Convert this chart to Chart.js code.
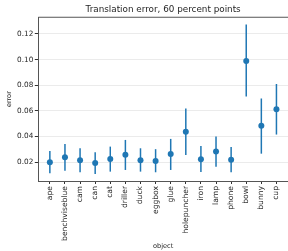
<!DOCTYPE html>
<html lang="en">
<head>
    <meta charset="UTF-8">
    <title>Translation error</title>
    <script src="https://cdn.jsdelivr.net/npm/chart.js"></script>
    <style>
        html, body { margin: 0; padding: 0; overflow: hidden; background: #fff; }
        canvas { display: block; }
    </style>
</head>
<body>
    <canvas id="grafico" width="292" height="251"></canvas>
<script>
    // valores
    const objetos = ['ape', 'benchviseblue', 'cam', 'can', 'cat', 'driller', 'duck', 'eggbox',
        'glue', 'holepuncher', 'iron', 'lamp', 'phone', 'bowl', 'bunny', 'cup'];
    const media = [0.0200, 0.0239, 0.0216, 0.0195, 0.0226, 0.0259, 0.0216, 0.0210,
        0.0265, 0.0437, 0.0223, 0.0283, 0.0220, 0.0989, 0.0484, 0.0614];
    const limInferior = [0.0114, 0.0134, 0.0122, 0.0109, 0.0127, 0.0140, 0.0127, 0.0122,
        0.0140, 0.0257, 0.0124, 0.0166, 0.0122, 0.0712, 0.0267, 0.0416];
    const limSuperior = [0.0288, 0.0343, 0.0309, 0.0278, 0.0322, 0.0374, 0.0309, 0.0302,
        0.0382, 0.0619, 0.0327, 0.0400, 0.0319, 0.1273, 0.0697, 0.0810];
    const ticksY = [0.02, 0.04, 0.06, 0.08, 0.10, 0.12];

    const azul = '#1f77b4';
    const fonte = 'DejaVu Sans';

    // barras de erro + linha superior do eixo
    const barrasErro = {
        id: 'barrasErro',
        beforeDatasetsDraw(chart) {
            const ctx = chart.ctx;
            const x = chart.scales.x, y = chart.scales.y;
            ctx.save();
            ctx.strokeStyle = azul;
            ctx.lineWidth = 1.5;
            objetos.forEach((o, i) => {
                const px = x.getPixelForValue(i);
                ctx.beginPath();
                ctx.moveTo(px, y.getPixelForValue(limInferior[i]));
                ctx.lineTo(px, y.getPixelForValue(limSuperior[i]));
                ctx.stroke();
            });
            ctx.restore();
        },
        afterDraw(chart) {
            const ctx = chart.ctx, a = chart.chartArea;
            ctx.save();
            ctx.strokeStyle = '#555';
            ctx.lineWidth = 1;
            ctx.beginPath();
            ctx.moveTo(a.left, a.top);
            ctx.lineTo(a.right, a.top);
            ctx.stroke();
            ctx.restore();
        }
    };

    new Chart(document.getElementById('grafico'), {
        type: 'scatter',
        data: {
            datasets: [{
                data: media.map((v, i) => ({ x: i, y: v })),
                backgroundColor: azul,
                borderColor: azul,
                pointRadius: 3,
                pointBorderWidth: 0
            }]
        },
        options: {
            responsive: false,
            animation: false,
            layout: { padding: 0 },
            plugins: {
                legend: { display: false },
                tooltip: { enabled: false },
                title: {
                    display: true,
                    text: 'Translation error, 60 percent points',
                    fullSize: false,
                    color: '#262626',
                    font: { family: fonte, size: 8.8, weight: 'normal' },
                    padding: { top: 4.7, bottom: 2.0 }
                }
            },
            scales: {
                x: {
                    type: 'linear',
                    min: -0.765,
                    max: 15.765,
                    afterBuildTicks: s => { s.ticks = objetos.map((o, i) => ({ value: i })); },
                    afterFit: s => { s.height = 70; },
                    ticks: {
                        autoSkip: false,
                        minRotation: 90,
                        maxRotation: 90,
                        padding: 2,
                        color: '#262626',
                        font: { family: fonte, size: 7.6 },
                        callback: v => objetos[v]
                    },
                    grid: {
                        drawOnChartArea: false,
                        drawTicks: true,
                        tickLength: 3,
                        tickColor: '#333'
                    },
                    border: { display: true, color: '#555', width: 1 },
                    title: {
                        display: true,
                        text: 'object',
                        color: '#262626',
                        font: { family: fonte, size: 6.6 },
                        padding: { top: 0, bottom: 0.5 }
                    }
                },
                y: {
                    min: 0.0054,
                    max: 0.1330,
                    afterBuildTicks: s => { s.ticks = ticksY.map(v => ({ value: v })); },
                    afterFit: s => { s.width = 38.3; },
                    ticks: {
                        padding: 1.5,
                        color: '#262626',
                        font: { family: fonte, size: 7.3 },
                        callback: v => v.toFixed(2)
                    },
                    grid: {
                        color: '#ebebeb',
                        lineWidth: 1,
                        tickLength: 3.5,
                        tickColor: '#333'
                    },
                    border: { display: true, color: '#555', width: 1 },
                    title: {
                        display: true,
                        text: 'error',
                        color: '#262626',
                        font: { family: fonte, size: 6.6 },
                        padding: { top: 5, bottom: 0 }
                    }
                }
            }
        },
        plugins: [barrasErro]
    });
</script>
</body>
</html>
